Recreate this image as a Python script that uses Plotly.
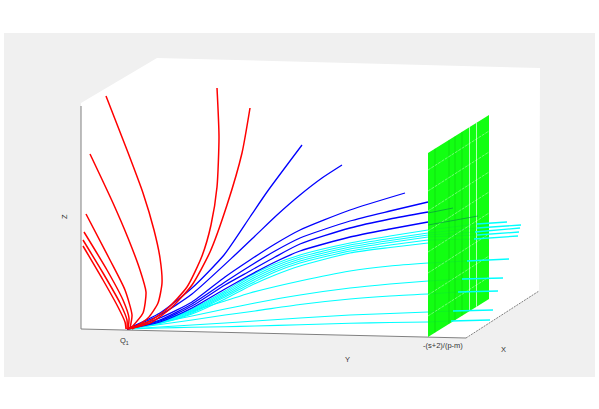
import plotly.graph_objects as go

# Values, in the picture's projected view coordinates
panel_x = [4, 595, 595, 4]
panel_y = [33, 33, 377, 377]
box_x = [81, 157, 540, 539, 466, 81]
box_y = [103, 58, 68, 291, 338, 329]
plane_x = [428, 489, 489, 428]
plane_y = [153, 115, 299, 337]

red_curves = [
    [(106,96),(127,150),(143,193),(154,230),(160,258),(162,283),(158,303),(148,318),(132,329)],
    [(90,154),(113,203),(128,238),(140,270),(146,292),(143,313),(130,329)],
    [(86,214),(110,260),(125,290),(132,315),(130,328)],
    [(84,232),(107,270),(123,300),(129,318),(128,329)],
    [(83,240),(103,273),(120,303),(127,320),(127,329)],
    [(83,246),(103,280),(118,307),(125,322),(126,329)],
    [(217,88),(219,137),(217,187),(211,225),(202,256),(187,287),(168,308),(150,321),(127,329)],
    [(250,108),(242,153),(227,205),(210,252),(192,285),(170,309),(150,323),(128,329)],
]
blue_curves = [
    [(302,145),(267,192),(250,217),(224,255),(192,288),(160,313),(127,329)],
    [(342,165),(322,178),(300,195),(277,215),(255,236),(235,255),(192,294),(160,315),(127,329)],
    [(405,193),(350,210),(300,230),(275,244),(250,260),(225,277),(192,302),(160,318),(127,329)],
    [(428,202),(390,211),(350,221),(300,238),(275,251),(250,266),(225,282),(192,304),(160,320),(127,329)],
    [(428,212),(390,219),(350,228),(300,244),(275,257),(250,271),(225,285),(192,306),(160,321),(127,329)],
    [(428,222),(390,229),(350,237),(300,251),(275,262),(250,275),(225,289),(192,308),(160,322),(127,329)],
]
cyan_curves = [
    [(127,329),(160,321),(192,309),(225,291),(250,276),(275,264),(300,255),(350,243),(390,236),(428,230)],
    [(127,329),(160,321.5),(192,310),(225,292.5),(250,278),(275,266),(300,257),(350,245),(390,238.5),(428,233)],
    [(127,329),(160,322),(192,311),(225,294),(250,280),(275,268),(300,259),(350,247),(390,240.5),(428,235)],
    [(127,329),(160,322.5),(192,312),(225,295.5),(250,282),(275,270),(300,261),(350,249),(390,242.5),(428,237)],
    [(127,329),(160,323),(192,313),(225,297),(250,284),(275,272),(300,263),(350,251),(390,245),(428,240)],
    [(127,329),(160,323.5),(192,314),(225,299),(250,286),(275,275),(300,266),(350,253),(390,247.5),(428,243)],
    [(127,329),(160,320),(192,311),(225,301),(250,293),(300,281),(350,271),(390,266),(428,263)],
    [(127,329),(160,322.5),(192,316),(225,309),(255,303),(300,295),(350,288),(390,284),(428,281)],
    [(127,329),(160,324.5),(192,320),(225,315),(255,311),(300,304.5),(350,299),(390,296),(428,294)],
    [(127,329),(160,327),(192,325),(225,323),(255,321),(300,318),(350,315),(390,313.5),(428,312)],
    [(127,329),(160,328),(192,327.3),(225,326.8),(255,326),(300,324.7),(350,323.3),(390,322.5),(428,322)],
]
cyan_front = [
    [(477,224),(507,222)],
    [(477,228),(521,225)],
    [(475,232),(520,228)],
    [(477,235),(519,232)],
    [(474,239),(518,236)],
    [(467,261),(509,259)],
    [(462,279),(503,278)],
    [(458,292),(498,291)],
    [(453,311),(493,310)],
    [(451,321),(490,320)],
]
faint_blue = [[(428,213),(453,208)], [(428,225),(478,216)]]
faint_cyan = [[(428,230),(477,224)], [(428,233),(477,228)], [(428,235),(475,232)],
              [(428,237),(477,235)], [(428,240),(474,239)], [(428,263),(467,261)],
              [(428,281),(462,279)], [(428,294),(458,292)], [(428,312),(453,311)],
              [(428,322),(451,321)]]
plane_grid_dark_x = [435, 449, 455, 462]
plane_grid_light_x = [469.5, 476.5]
plane_slant_left_y = [170, 191, 211, 231, 252, 273, 295, 316]
plane_slant_rise = 39

labels = ["Z", "Y", "X", "-(s+2)/(p-m)", "Q<sub>1</sub>"]
label_x = [64, 347, 503, 443, 124]
label_y = [217, 359, 349, 345, 341]

GRAY = "#808080"
fig = go.Figure()


def poly(xs, ys, color):
    fig.add_trace(go.Scatter(x=xs + xs[:1], y=ys + ys[:1], mode="lines", fill="toself",
                             fillcolor=color, line=dict(width=0), hoverinfo="skip"))


def curve(pts, color, width=1.3, spline=True, dash="solid"):
    fig.add_trace(go.Scatter(x=[p[0] for p in pts], y=[p[1] for p in pts], mode="lines",
                             line=dict(color=color, width=width, dash=dash,
                                       shape="spline" if spline else "linear", smoothing=0.6),
                             hoverinfo="skip"))


poly(panel_x, panel_y, "#f0f0f0")
poly(box_x, box_y, "#ffffff")

curve([(box_x[0], 106), (box_x[5], box_y[5])], GRAY, 1, False)
curve([(box_x[5], box_y[5]), (box_x[4], box_y[4])], GRAY, 1, False)
curve([(box_x[4], box_y[4]), (box_x[3], box_y[3])], GRAY, 1, False, "2px,1px")

for c in cyan_curves:
    curve(c, "#00ffff", 1.1)
for c in blue_curves:
    curve(c, "#0000ff", 1.3)
for c in red_curves:
    curve(c, "#ff0000", 1.5)

poly(plane_x, plane_y, "#12ff12")


def plane_edge_y(gx):
    f = (gx - plane_x[0]) / (plane_x[1] - plane_x[0])
    return plane_y[0] + (plane_y[1] - plane_y[0]) * f, plane_y[3] + (plane_y[2] - plane_y[3]) * f


for gx in plane_grid_dark_x:
    top, bot = plane_edge_y(gx)
    curve([(gx, top), (gx, bot)], "rgba(0,130,0,0.22)", 1, False)
for gx in plane_grid_light_x:
    top, bot = plane_edge_y(gx)
    curve([(gx, top), (gx, bot)], "rgba(235,255,235,0.75)", 1, False)
for ly in plane_slant_left_y:
    curve([(plane_x[0], ly), (plane_x[1], ly - plane_slant_rise)], "rgba(235,255,235,0.55)", 0.8, False, "3px,1px")

for c in faint_cyan:
    curve(c, "rgba(0,200,90,0.25)", 0.8, False)
for c in faint_blue:
    curve(c, "rgba(0,120,80,0.55)", 1, False)
for c in cyan_front:
    curve(c, "#00ffff", 1.3, False)

for t, x, y in zip(labels, label_x, label_y):
    fig.add_annotation(x=x, y=y, text=t, showarrow=False, textangle=-90 if t == "Z" else 0,
                       font=dict(family="Liberation Sans", size=7.5, color="#333333"))

fig.update_layout(
    width=599, height=409, margin=dict(l=0, r=0, t=0, b=0), showlegend=False,
    paper_bgcolor="#ffffff", plot_bgcolor="#ffffff",
    xaxis=dict(range=[0, 599], visible=False, fixedrange=True),
    yaxis=dict(range=[409, 0], visible=False, fixedrange=True),
)
fig.write_html("out.html", config={"displayModeBar": False},
               post_script="document.body.style.margin='0';")
